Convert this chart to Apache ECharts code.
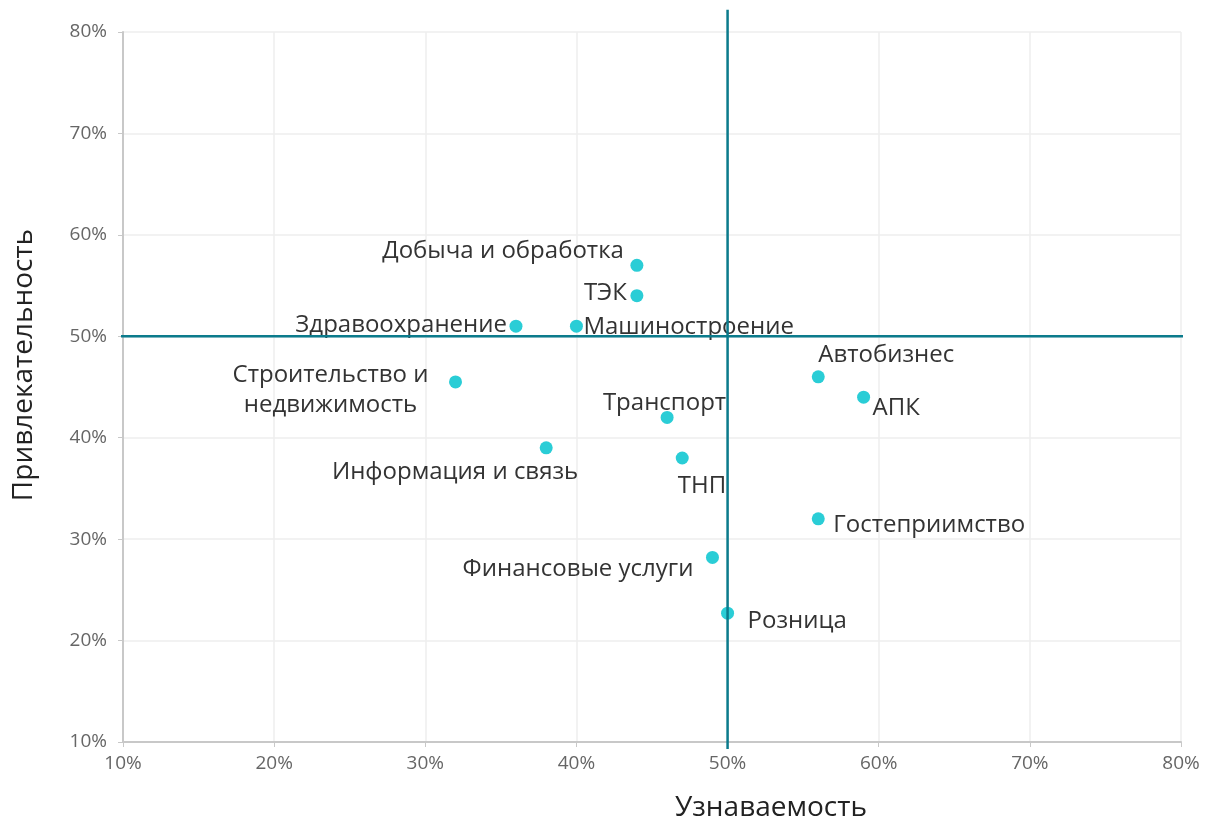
<!DOCTYPE html>
<html>
<head>
<meta charset="utf-8">
<script src="https://cdn.jsdelivr.net/npm/echarts@6/dist/echarts.min.js"></script>
<style>
  html, body { margin: 0; padding: 0; background: #fff; }
  #chart { width: 1206px; height: 820px; }
</style>
</head>
<body>
<div id="chart"></div>
<script>
  // отрасли: узнаваемость (x), привлекательность (y), %
  var industries = ['Добыча и обработка', 'ТЭК', 'Здравоохранение', 'Машиностроение',
    'Строительство и\nнедвижимость', 'Автобизнес', 'АПК', 'Транспорт',
    'Информация и связь', 'ТНП', 'Гостеприимство', 'Финансовые услуги', 'Розница'];
  var recognition = [44, 44, 36, 40, 32, 56, 59, 46, 38, 47, 56, 49, 50];
  var attractiveness = [57, 54, 51, 51, 45.5, 46, 44, 42, 39, 38, 32, 28.2, 22.7];

  // линии медианы
  var vLineX = [50, 50];
  var vLineY = [9.3, 82.2];
  var hLineX = [9.45, 81.4];
  var hLineY = [50, 50];

  // положение подписей: [align, dx, dy]
  var labelPlace = [
    ['right', -13, -14], ['right', -10, -3], ['right', -9, -1], ['left', 7, 1],
    ['center', -125, 8], ['left', 0, -22], ['left', 9, 11], ['right', 59, -14],
    ['right', 32, 24], ['right', 44, 28], ['left', 15, 6], ['right', -19, 12],
    ['left', 20, 8]
  ];

  var font = 'Open Sans';
  var points = industries.map(function (name, i) {
    var p = labelPlace[i];
    return {
      name: name,
      value: [recognition[i], attractiveness[i]],
      label: { align: p[0], offset: [p[1], p[2]] }
    };
  });

  var chart = echarts.init(document.getElementById('chart'));
  chart.setOption({
    animation: false,
    grid: { left: 123, right: 25, top: 32, bottom: 78, outerBoundsMode: 'none', containLabel: false },
    xAxis: {
      type: 'value', min: 10, max: 80, interval: 10,
      name: 'Узнаваемость', nameLocation: 'middle', nameGap: 52,
      nameTextStyle: { fontFamily: font, fontSize: 28, color: '#222', padding: [0, 0, 0, 238] },
      axisLine: { show: true, lineStyle: { color: '#c8c8c8', width: 2 } },
      axisTick: { show: true, length: 5, lineStyle: { color: '#c8c8c8' } },
      axisLabel: { formatter: '{value}%', fontFamily: font, fontSize: 19, color: '#666', margin: 12 },
      splitLine: { lineStyle: { color: '#eeeeee', width: 1.5 } }
    },
    yAxis: {
      type: 'value', min: 10, max: 80, interval: 10,
      name: 'Привлекательность', nameLocation: 'middle', nameGap: 85,
      nameTextStyle: { fontFamily: font, fontSize: 28, color: '#222', padding: [0, 0, 0, 44] },
      axisLine: { show: true, lineStyle: { color: '#c8c8c8', width: 2 } },
      axisTick: { show: true, length: 5, lineStyle: { color: '#c8c8c8' } },
      axisLabel: { formatter: '{value}%', fontFamily: font, fontSize: 19, color: '#666', margin: 16 },
      splitLine: { lineStyle: { color: '#eeeeee', width: 1.5 } }
    },
    series: [
      {
        type: 'scatter',
        symbolSize: 13,
        itemStyle: { color: '#2acdd6', opacity: 1 },
        data: points,
        label: {
          show: true, position: 'inside',
          formatter: '{b}',
          fontFamily: font, fontSize: 24, color: '#333', lineHeight: 30
        },
        z: 2
      },
      {
        type: 'line', clip: false, symbol: 'none', silent: true,
        lineStyle: { color: '#0b7b8c', width: 2.5 },
        data: vLineX.map(function (x, i) { return [x, vLineY[i]]; }),
        z: 3
      },
      {
        type: 'line', clip: false, symbol: 'none', silent: true,
        lineStyle: { color: '#0b7b8c', width: 2.5 },
        data: hLineX.map(function (x, i) { return [x, hLineY[i]]; }),
        z: 3
      }
    ]
  });
</script>
</body>
</html>
